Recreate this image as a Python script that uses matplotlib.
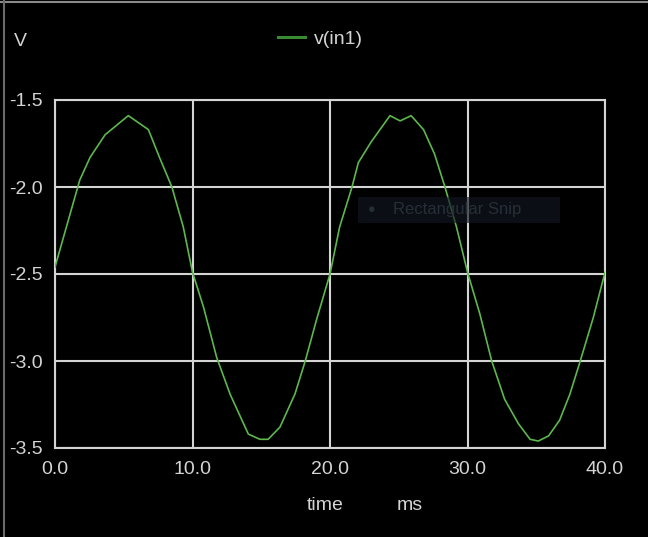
import matplotlib.pyplot as plt
from matplotlib.lines import Line2D
from matplotlib.patches import Rectangle

plt.rcParams['font.family'] = ['Liberation Sans', 'DejaVu Sans']

# v(in1) (time in ms, volts)
t_ms = [0.0, 1.8, 2.55, 3.64, 5.33, 6.79, 7.6, 8.5, 9.33, 10.0,
        10.8, 11.76, 12.73, 14.06, 14.9, 15.5, 16.36, 17.45, 18.2, 19.03, 20.0,
        20.7, 21.6, 22.06, 23.0, 24.36, 25.1, 25.9, 26.8, 27.6, 28.36, 29.2, 30.0,
        30.9, 31.76, 32.7, 33.7, 34.55, 35.15, 35.9, 36.7, 37.45, 38.2, 39.15, 40.0]
v_in1 = [-2.46, -1.96, -1.83, -1.70, -1.59, -1.67, -1.83, -2.00, -2.23, -2.49,
         -2.69, -2.98, -3.19, -3.42, -3.45, -3.45, -3.38, -3.19, -3.00, -2.76, -2.50,
         -2.23, -2.00, -1.86, -1.74, -1.59, -1.62, -1.59, -1.67, -1.81, -2.00, -2.23, -2.49,
         -2.73, -3.00, -3.22, -3.36, -3.45, -3.46, -3.43, -3.34, -3.19, -3.00, -2.75, -2.49]

xticks = [0, 10, 20, 30, 40]
yticks = [-3.5, -3.0, -2.5, -2.0, -1.5]

W, H = 648, 537
fg = '#d4d4d4'
green = '#5cb84c'

fig = plt.figure(figsize=(W/100, H/100), dpi=100, facecolor='black')
ax = fig.add_axes([55/W, 1-448/H, 550/W, 348/H], facecolor='black')

ax.plot(t_ms, v_in1, color=green, lw=1.2, zorder=3)

ax.set_xlim(0, 40)
ax.set_ylim(-3.5, -1.5)
ax.set_xticks(xticks)
ax.set_xticklabels(['%.1f' % x for x in xticks])
ax.set_yticks(yticks)
ax.set_yticklabels(['%.1f' % y for y in yticks])
ax.tick_params(length=0, labelsize=14, labelcolor=fg)
ax.tick_params(axis='x', pad=9)
ax.tick_params(axis='y', pad=9)
ax.grid(True, color=fg, lw=1.5, zorder=1)
for s in ax.spines.values():
    s.set_color(fg)
    s.set_linewidth(1.5)

# snipping-tool overlay visible in the screenshot
ax.add_patch(Rectangle((358/W, 1-223/H), 202/W, 26/H, transform=fig.transFigure,
                       facecolor='#121821', alpha=0.65, edgecolor='none', zorder=5))
fig.text(372/W, 1-210/H, '\u25cf', color='#262e38', fontsize=9, ha='center', va='center', zorder=6)
fig.text(393/W, 1-210/H, 'Rectangular Snip', color='#262e38', fontsize=12, ha='left', va='center', zorder=6)

# header / axis labels
fig.text(14/W, 1-41/H, 'V', color=fg, fontsize=14, ha='left', va='center')
fig.add_artist(Line2D([278/W, 305/W], [1-37/H, 1-37/H], color='#3a8a34', lw=2.2))
fig.text(314/W, 1-39/H, 'v(in1)', color=fg, fontsize=14, ha='left', va='center')
fig.text(307/W, 1-506/H, 'time', color=fg, fontsize=14, ha='left', va='center')
fig.text(397/W, 1-506/H, 'ms', color=fg, fontsize=14, ha='left', va='center')

# screenshot frame edges
fig.add_artist(Line2D([0, 1], [1-2/H, 1-2/H], color='#8a8a8a', lw=1.5))
fig.add_artist(Line2D([4/W, 4/W], [0, 1], color='#6a6a6a', lw=1.5))

fig.savefig('out.png', dpi=100, facecolor='black')
